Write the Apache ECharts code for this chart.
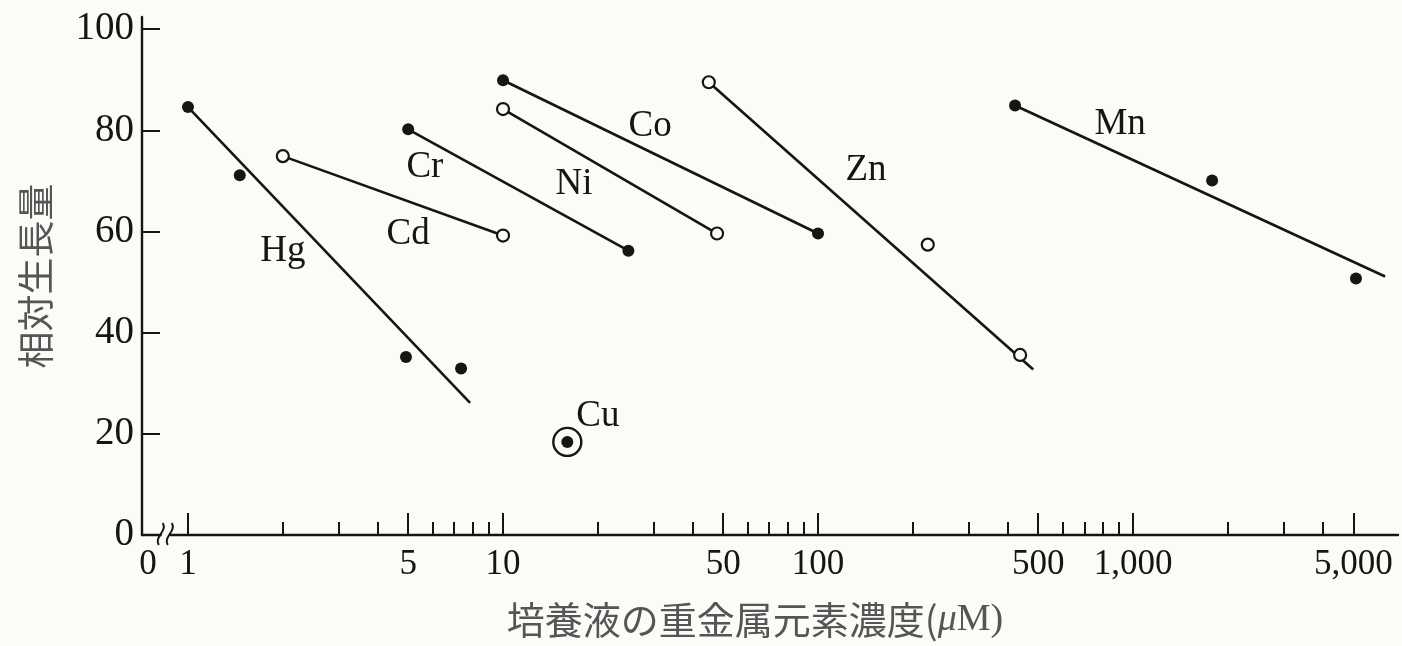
<!DOCTYPE html>
<html><head><meta charset="utf-8">
<script src="https://cdn.jsdelivr.net/npm/echarts@6/dist/echarts.min.js"></script>
<style>html,body{margin:0;padding:0;background:#fbfbf8}#c{width:1402px;height:646px}</style>
</head><body><div id="c"></div>
<script>
// ---- data (concentration in µM, relative growth) ----
const hgConc = [1, 1.46, 4.92, 7.36];
const hgGrowth = [84.6, 71.1, 35.2, 32.9];
const hgFitConc = [1, 7.86];
const hgFitGrowth = [84.6, 26.1];

const cdConc = [2, 10];
const cdGrowth = [74.9, 59.2];

const crConc = [5, 25];
const crGrowth = [80.2, 56.2];

const niConc = [10, 47.8];
const niGrowth = [84.2, 59.6];

const coConc = [10, 100];
const coGrowth = [89.9, 59.6];

const znConc = [45, 223, 438];
const znGrowth = [89.5, 57.4, 35.6];
const znFitConc = [45, 482];
const znFitGrowth = [89.5, 32.7];

const mnConc = [422, 1782, 5100];
const mnGrowth = [84.9, 70.1, 50.7];
const mnFitConc = [422, 6310];
const mnFitGrowth = [84.9, 51.1];

const cuConc = [16];
const cuGrowth = [18.4];

const labelNames = ['Hg', 'Cd', 'Cr', 'Ni', 'Co', 'Zn', 'Mn', 'Cu'];
const labelConc = [2.0, 5.0, 5.65, 16.8, 29.3, 142, 910, 20];
const labelGrowth = [56.0, 59.4, 72.7, 69.3, 80.8, 72.1, 81.2, 23.4];

const xMajorTicks = [1, 5, 10, 50, 100, 500, 1000, 5000];
const xMinorTicks = [2, 3, 4, 6, 7, 8, 9, 20, 30, 40, 60, 70, 80, 90, 200, 300, 400, 600, 700, 800, 900, 2000, 3000, 4000];
const yTicks = [0, 20, 40, 60, 80, 100];

// ---- chart ----
const INK = '#151515';
const BG = '#fbfbf8';
const SERIF = '"Liberation Serif", "Times New Roman", serif';
const L = Math.log10;
const xMin = -0.146, xMax = 3.841;
const pts = (xs, ys) => xs.map((x, i) => [L(x), ys[i]]);
const fmt = v => {
  if (v < -0.1) return '{z|0}';
  const n = Math.round(Math.pow(10, v));
  return n.toLocaleString('en-US');
};

function lineS(xs, ys) {
  return { type: 'line', data: pts(xs, ys), symbol: 'none', z: 2, silent: true,
    lineStyle: { color: INK, width: 2.6, opacity: 1 } };
}
function dotS(xs, ys, open) {
  return { type: 'scatter', data: pts(xs, ys), symbol: 'circle', symbolSize: 12, z: 3, silent: true,
    itemStyle: open ? { color: BG, borderColor: INK, borderWidth: 2.2, opacity: 1 } : { color: INK, opacity: 1 } };
}

const series = [
  lineS(hgFitConc, hgFitGrowth), dotS(hgConc, hgGrowth, false),
  lineS(cdConc, cdGrowth), dotS(cdConc, cdGrowth, true),
  lineS(crConc, crGrowth), dotS(crConc, crGrowth, false),
  lineS(niConc, niGrowth), dotS(niConc, niGrowth, true),
  lineS(coConc, coGrowth), dotS(coConc, coGrowth, false),
  lineS(znFitConc, znFitGrowth), dotS(znConc, znGrowth, true),
  lineS(mnFitConc, mnFitGrowth), dotS(mnConc, mnGrowth, false),
  { type: 'scatter', data: pts(cuConc, cuGrowth), symbol: 'circle', symbolSize: 28, z: 3, silent: true,
    itemStyle: { color: 'rgba(0,0,0,0)', borderColor: INK, borderWidth: 2.4, opacity: 1 } },
  dotS(cuConc, cuGrowth, false),
  { type: 'scatter', symbolSize: 1, z: 4, silent: true,
    itemStyle: { color: 'rgba(0,0,0,0)', opacity: 1 },
    data: labelNames.map((n, i) => ({ name: n, value: [L(labelConc[i]), labelGrowth[i]] })),
    label: { show: true, position: 'inside', formatter: '{b}', fontFamily: SERIF, fontSize: 37, color: INK, opacity: 1 } }
];

const chart = echarts.init(document.getElementById('c'), null, { renderer: 'canvas' });
chart.setOption({
  backgroundColor: BG,
  animation: false,
  grid: { left: 142, right: 4, top: 17, bottom: 111, containLabel: false },
  xAxis: [{
    type: 'value', min: xMin, max: xMax,
    name: '{a|培養液の重金属元素濃度(}{mu|μ}{m|M)}',
    nameLocation: 'middle', nameGap: 66,
    nameTextStyle: {
      padding: [0, 30, 0, 0],
      rich: {
        a: { fontFamily: '"Noto Sans CJK JP", serif', fontSize: 38, color: '#555' },
        mu: { fontFamily: SERIF, fontStyle: 'italic', fontSize: 38, color: '#555' },
        m: { fontFamily: SERIF, fontSize: 38, color: '#555' }
      }
    },
    axisLine: { show: true, onZero: false, lineStyle: { color: INK, width: 2.4 } },
    axisTick: { show: true, inside: true, length: 22, lineStyle: { color: INK, width: 2 },
      customValues: xMajorTicks.map(L) },
    axisLabel: { show: true, margin: 12, fontFamily: SERIF, fontSize: 35, color: INK,
      customValues: [xMin].concat(xMajorTicks.map(L)), formatter: fmt,
      rich: { z: { fontFamily: SERIF, fontSize: 35, color: INK, padding: [0, 0, 0, 12] } } },
    splitLine: { show: false }
  }, {
    type: 'value', min: xMin, max: xMax, gridIndex: 0, position: 'bottom',
    axisLine: { show: false, onZero: false },
    axisTick: { show: true, inside: true, length: 13, lineStyle: { color: INK, width: 2 },
      customValues: xMinorTicks.map(L) },
    axisLabel: { show: false },
    splitLine: { show: false }
  }],
  yAxis: {
    type: 'value', min: 0, max: 102.4,
    name: '相対生長量', nameLocation: 'middle', nameGap: 88,
    nameTextStyle: { fontFamily: '"Noto Sans CJK JP", serif', fontSize: 37, color: '#555' },
    axisLine: { show: true, onZero: false, lineStyle: { color: INK, width: 2.4 } },
    axisTick: { show: true, inside: true, length: 18, lineStyle: { color: INK, width: 2 },
      customValues: yTicks.slice(1) },
    axisLabel: { show: true, margin: 8, fontFamily: SERIF, fontSize: 39, color: INK,
      customValues: yTicks },
    splitLine: { show: false }
  },
  series: series
});

// axis break mark near the origin
const bp = chart.convertToPixel({ xAxisIndex: 0, yAxisIndex: 0 }, [L(0.85), 0]);
const bx = bp[0], by = bp[1];
function squiggle(x) {
  return { type: 'bezierCurve', z: 100, silent: true,
    shape: { x1: x - 2, y1: by + 10, x2: x + 2, y2: by - 12, cpx1: x - 7, cpy1: by + 2, cpx2: x + 7, cpy2: by - 4 },
    style: { stroke: INK, lineWidth: 2, fill: null } };
}
chart.setOption({
  graphic: [
    { type: 'rect', z: 99, silent: true, shape: { x: bx - 4, y: by - 3, width: 8, height: 6 }, style: { fill: BG } },
    squiggle(bx - 5), squiggle(bx + 4)
  ]
});
</script></body></html>
